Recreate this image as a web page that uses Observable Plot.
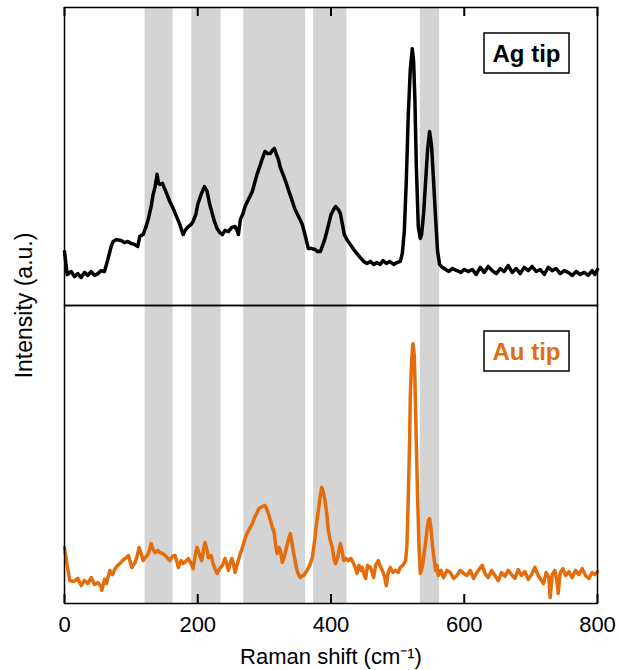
<!DOCTYPE html>
<html><head><meta charset="utf-8">
<script src="https://cdn.jsdelivr.net/npm/d3@7"></script>
<script src="https://cdn.jsdelivr.net/npm/@observablehq/plot@0.6"></script>
<style>body{margin:0;background:#fff;} #chart{width:619px;height:670px;}</style>
</head><body><div id="chart"></div>
<script>
const panels = ["Ag tip", "Au tip"];
const panelColors = ["#000000", "#E46C0A"];
const xTicks = [0, 200, 400, 600, 800];
const bandStart = [121, 191, 269, 374, 534];
const bandEnd = [163, 235, 362, 424, 563];

const agShift = [0,4,10,15,20,25,30,35,40,45,50,55,60,65,70,73,78,85,90,95,100,105,110,113,118,122,126,130,133,136,139,141,143,147,150,154,158,163,168,173,178,182,186,190,193,197,200,205,210,214,218,221,225,229,233,237,241,246,251,256,259,261,264,268,271,276,282,286,289,293,297,301,305,309,312,315,318,321,324,328,332,336,341,346,352,357,362,366,371,376,380,384,388,391,396,400,404,407,411,414,417,420,424,429,434,439,444,449,454,459,464,469,474,478,483,488,494,499,504,507,510,513,516,519,522,524,526,528,531,534,536,539,542,545,548,551,554,557,560,563,567,572,577,582,589,595,600,606,612,618,624,630,636,642,648,654,660,666,672,678,684,690,696,702,708,714,720,726,732,738,744,750,756,762,768,774,780,786,792,796,800];
const agIntensity = [18.1,10.4,11.4,9.7,10.7,9.4,11.1,10.1,11.4,10.1,10.7,11.7,11.4,15.4,19.8,21.5,22.1,21.8,21.1,21.5,20.8,20.5,19.8,23.2,23.8,26.2,29.2,33.2,37.2,39.9,44.0,41.0,40.6,41.0,39.3,37.2,34.9,32.6,29.9,27.2,23.8,25.5,26.5,27.2,28.2,30.5,33.9,37.2,39.9,38.3,33.9,31.5,28.2,25.8,24.5,23.8,25.2,24.8,26.2,26.5,25.2,23.8,28.9,30.9,33.2,35.6,38.3,41.6,44.0,46.6,49.3,51.7,51.0,51.0,52.0,52.7,50.7,49.0,46.3,44.0,41.6,38.9,35.6,32.2,29.5,27.2,22.8,19.1,19.1,18.8,18.1,18.1,20.5,22.5,26.8,30.5,32.2,33.2,32.2,30.9,27.5,23.8,22.1,20.5,18.8,17.4,16.1,14.8,14.1,14.8,13.8,14.4,13.8,15.1,14.1,14.8,13.8,14.4,14.8,17.4,24.8,41.6,64.1,79.2,86.2,81.9,68.5,47.3,26.5,22.5,23.8,30.9,41.6,52.3,58.4,53.4,41.6,29.2,18.1,13.8,12.8,12.1,11.4,12.4,11.7,11.1,12.1,11.4,12.1,10.4,12.8,11.1,13.1,11.7,10.7,12.4,11.4,13.4,11.1,12.4,10.7,12.8,11.7,13.1,11.4,12.1,10.4,12.8,11.7,12.4,10.7,11.7,11.1,10.1,11.4,10.4,11.1,10.1,11.7,10.4,12.1];

const auShift = [0,4,8,14,20,25,30,35,40,45,50,55,56,60,63,68,72,76,80,83,87,91,96,101,106,109,112,115,118,121,124,127,130,133,136,140,143,147,151,155,158,162,166,171,175,178,182,186,190,193,196,199,203,206,209,211,214,216,220,223,226,229,233,237,241,244,246,249,251,254,256,260,264,268,271,274,278,282,286,289,292,294,298,301,304,306,309,312,315,317,319,322,324,327,330,334,337,339,342,344,347,349,352,354,357,359,362,364,368,372,376,378,381,384,386,388,391,394,396,399,402,405,407,410,414,417,419,422,426,430,434,437,439,442,445,447,450,452,455,459,462,464,467,471,474,477,480,483,486,489,493,497,501,504,508,512,514,516,518,519,521,523,525,526,528,530,532,534,537,539,542,544,546,548,550,552,555,557,559,561,565,569,574,579,584,589,594,599,604,609,614,619,623,627,631,636,641,646,651,656,661,666,671,676,681,686,691,696,701,706,711,716,719,723,727,729,732,736,739,741,744,748,752,757,762,767,772,777,782,787,792,796,800];
const auIntensity = [18.8,12.8,7.7,7.4,8.4,6.0,7.7,6.7,8.7,6.4,7.0,5.7,4.4,8.1,6.7,11.1,9.7,11.7,12.8,13.4,14.4,15.1,16.1,12.1,13.8,15.8,18.8,16.8,14.4,15.4,16.1,17.4,20.1,18.1,17.1,17.8,17.1,16.8,16.1,15.1,14.4,15.8,16.1,12.1,14.4,13.4,14.1,15.1,13.4,11.7,15.8,18.8,16.1,14.4,18.5,20.5,17.8,15.4,16.1,13.4,11.7,10.1,11.7,12.8,15.1,12.8,11.1,13.8,15.1,12.8,10.4,13.8,16.8,19.5,21.8,23.5,25.2,26.8,29.2,30.5,31.9,32.2,32.6,32.9,31.5,30.2,27.9,25.5,23.5,19.5,16.8,18.8,17.8,13.8,15.8,19.5,22.1,23.5,19.5,16.8,13.4,11.1,9.4,8.7,9.4,9.4,10.4,11.1,12.8,15.4,22.1,26.2,31.2,36.2,38.9,37.9,34.6,29.5,24.5,21.1,18.8,14.4,13.4,15.4,20.1,17.1,14.4,15.1,14.4,15.1,13.4,11.7,10.1,12.8,11.1,12.1,9.4,8.4,12.8,12.1,10.4,8.7,12.8,14.4,12.4,11.1,9.4,6.0,10.4,12.1,10.4,11.1,10.4,12.1,12.8,14.4,19.5,35.6,54.7,69.1,81.5,87.2,83.2,74.8,54.7,35.6,19.5,10.1,12.1,15.4,20.5,24.5,27.9,28.5,25.2,20.1,14.4,11.1,12.8,9.4,11.1,8.7,11.1,10.4,8.4,9.4,11.1,10.1,9.4,11.1,8.4,10.4,11.7,12.8,10.1,8.7,11.1,9.4,7.7,10.4,9.1,11.1,9.7,8.4,11.4,9.4,10.7,8.1,9.7,12.1,9.4,7.7,6.7,10.4,8.7,2.0,9.7,11.1,7.7,3.4,10.4,11.7,9.4,10.7,8.7,11.1,9.7,11.7,9.4,8.4,10.4,9.7,10.7];

const rows = [
  ...agShift.map((x, i) => ({panel: panels[0], x, v: agIntensity[i]})),
  ...auShift.map((x, i) => ({panel: panels[1], x, v: auIntensity[i]}))
];
const bands = bandStart.map((s, i) => ({lo: s, hi: bandEnd[i]}));

const W = 619, H = 670, mTop = 6, mBottom = 67;
const panelH = (H - mTop - mBottom) / 2;
const yDomain = [0, 100];
const tickLenUnits = 9 / panelH * (yDomain[1] - yDomain[0]);
const tickRows = [
  ...xTicks.map(x => ({panel: panels[0], x, y1: yDomain[1], y2: yDomain[1] - tickLenUnits})),
  ...xTicks.map(x => ({panel: panels[1], x, y1: yDomain[0], y2: yDomain[0] + tickLenUnits}))
];

const font = "'Liberation Sans', Arial, sans-serif";
const plot = Plot.plot({
  width: W, height: H,
  marginLeft: 64, marginRight: 22, marginTop: mTop, marginBottom: mBottom,
  style: {fontFamily: font, background: "white", color: "black"},
  x: {domain: [0, 800]},
  y: {domain: yDomain, axis: null},
  fy: {domain: panels, padding: 0},
  marks: [
    Plot.rect(bands, {x1: "lo", x2: "hi", fill: "#d4d4d4"}),
    Plot.line(rows.filter(d => d.panel === panels[0]), {x: "x", y: "v", fy: "panel", stroke: panelColors[0], strokeWidth: 3.5, strokeLinejoin: "round"}),
    Plot.line(rows.filter(d => d.panel === panels[1]), {x: "x", y: "v", fy: "panel", stroke: panelColors[1], strokeWidth: 3.5, strokeLinejoin: "round"}),
    Plot.ruleX(tickRows, {x: "x", y1: "y1", y2: "y2", fy: "panel", stroke: "black", strokeWidth: 2}),
    Plot.frame({stroke: "black", strokeWidth: 1.5}),
    Plot.axisX({anchor: "bottom", ticks: xTicks, tickSize: 0, tickPadding: 13, fontSize: 22,
      label: null}),
    Plot.axisX({anchor: "bottom", ticks: [], tickSize: 0, fontSize: 22,
      label: "Raman shift (cm⁻¹)", labelAnchor: "center", labelOffset: 60, labelArrow: "none"}),
    Plot.axisFy({anchor: "left", tickSize: 0, tickFormat: () => "", label: "Intensity (a.u.)", labelAnchor: "center", labelOffset: 49, fontSize: 23})
  ]
});
document.getElementById("chart").appendChild(plot);

// legend boxes inside each panel
const svg = d3.select(plot);
const fy = plot.scale("fy");
const xs = plot.scale("x");
const xRight = xs.apply(800);
panels.forEach((p, i) => {
  const top = fy.apply(p);
  const g = svg.append("g");
  g.append("rect").attr("x", xRight - 113).attr("y", top + 26).attr("width", 85).attr("height", 40)
    .attr("fill", "white").attr("stroke", "black").attr("stroke-width", 1.5);
  g.append("text").attr("x", xRight - 70.5).attr("y", top + 54.5).attr("text-anchor", "middle")
    .attr("font-family", font).attr("font-weight", "bold").attr("font-size", 24)
    .attr("fill", panelColors[i]).text(p);
});
</script></body></html>
